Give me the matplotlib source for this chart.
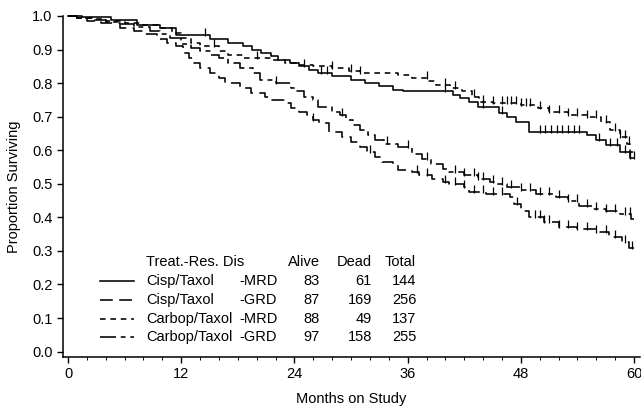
import numpy as np
import matplotlib
matplotlib.use('Agg')
import matplotlib.pyplot as plt
from matplotlib.ticker import MultipleLocator

plt.rcParams['font.family'] = ['Liberation Sans', 'DejaVu Sans']

# step times (months) and survival after each step
cm_t = [0, 1.5, 4.6, 7.3, 9.7, 11.5, 15.0, 17.0, 18.5, 19.5, 20.5, 21.5, 22.3, 23.5, 24.5, 25.5,
        26.5, 28.0, 30.0, 31.5, 33.0, 34.5, 35.5, 40.8, 41.5, 42.5, 43.5, 45.7, 46.5, 47.5, 48.9,
        55.0, 56.0, 57.0, 58.5, 59.6]
cm_s = [1.0, 0.996, 0.988, 0.973, 0.964, 0.943, 0.93, 0.92, 0.91, 0.90, 0.89, 0.88, 0.87, 0.86, 0.85, 0.84,
        0.83, 0.82, 0.81, 0.80, 0.79, 0.78, 0.775, 0.765, 0.755, 0.745, 0.73, 0.71, 0.70, 0.685, 0.655,
        0.645, 0.63, 0.615, 0.595, 0.578]
cm_cens = [14.5, 25, 26.8, 27.5, 40, 44, 46, 50, 50.6, 51.2, 51.8, 52.4, 53, 53.6, 54.2, 56.3, 57.5,
           58.2, 59, 59.6, 60]

cg_t = [0, 1.0, 2.0, 3.5, 5.5, 7.0, 8.0, 9.4, 10.5, 11.5, 12.2, 12.8, 13.4, 14.0, 15.0, 16.0, 16.6,
        18.2, 19.4, 20.9, 21.6, 23.0, 23.6, 24.5, 25.3, 26.0, 26.6, 27.7, 29.0, 30.0, 31.0, 31.7, 32.5,
        33.3, 34.4, 35.0, 36.5, 37.2, 38.6, 39.7, 40.4, 42.0, 42.5, 44.3, 46.8, 47.3, 48.0, 48.9, 50.5,
        52.0, 54.0, 56.0, 57.3, 58.7, 59.5]
cg_s = [1.0, 0.993, 0.986, 0.978, 0.965, 0.955, 0.945, 0.93, 0.92, 0.91, 0.89, 0.875, 0.86, 0.845, 0.83,
        0.815, 0.80, 0.785, 0.77, 0.76, 0.75, 0.74, 0.725, 0.715, 0.705, 0.69, 0.68, 0.655, 0.64, 0.625,
        0.61, 0.595, 0.58, 0.565, 0.555, 0.54, 0.535, 0.525, 0.515, 0.505, 0.50, 0.49, 0.476, 0.47, 0.46,
        0.44, 0.42, 0.40, 0.385, 0.37, 0.365, 0.355, 0.34, 0.327, 0.31]
cg_cens = [26, 32, 37, 38, 40, 41, 42, 43, 44, 45, 46, 47.6, 49.5, 50, 50.5, 51, 52, 53, 54, 55, 56,
           57, 58, 59, 59.8]

km_t = [0, 1.0, 2.5, 4.0, 6.0, 8.0, 9.5, 11.0, 12.0, 13.0, 14.0, 16.0, 17.0, 18.5, 21.5, 23.0, 24.5,
        26.0, 28.0, 29.8, 31.0, 35.0, 36.5, 38.3, 39.0, 40.5, 41.8, 42.8, 43.6, 45.0, 48.0, 49.8, 51.0,
        53.0, 55.0, 56.5, 57.5, 58.5, 59.2, 59.6]
km_s = [1.0, 0.995, 0.99, 0.984, 0.978, 0.972, 0.965, 0.95, 0.935, 0.92, 0.91, 0.895, 0.885, 0.875,
        0.87, 0.86, 0.855, 0.85, 0.845, 0.835, 0.83, 0.825, 0.815, 0.805, 0.795, 0.785, 0.775, 0.76,
        0.745, 0.74, 0.735, 0.725, 0.715, 0.705, 0.70, 0.685, 0.66, 0.64, 0.62, 0.595]
km_cens = [15.5, 20, 28, 30, 31, 38, 40, 41, 43, 44, 45, 46, 46.5, 47, 47.5, 48, 48.5, 49, 50, 51, 52,
           53, 54, 55, 56, 57, 58, 58.5, 59, 59.5]

kg_t = [0, 1.0, 2.5, 4.0, 5.5, 7.0, 8.7, 9.8, 10.8, 12.0, 13.0, 14.0, 15.0, 16.0, 17.0, 18.2, 19.6,
        20.3, 22.0, 23.6, 24.2, 25.0, 26.0, 26.5, 28.0, 28.8, 29.5, 30.2, 31.0, 31.8, 32.5, 33.5, 35.0,
        36.5, 37.5, 38.5, 39.7, 40.4, 42.0, 43.5, 44.7, 45.4, 46.5, 48.0, 49.6, 51.7, 53.0, 54.2, 55.5,
        57.0, 58.5, 59.7]
kg_s = [1.0, 0.994, 0.988, 0.982, 0.975, 0.968, 0.955, 0.945, 0.935, 0.915, 0.905, 0.895, 0.885, 0.875,
        0.86, 0.845, 0.83, 0.81, 0.80, 0.785, 0.775, 0.76, 0.75, 0.73, 0.715, 0.705, 0.69, 0.675, 0.66,
        0.645, 0.63, 0.62, 0.61, 0.59, 0.575, 0.56, 0.545, 0.535, 0.527, 0.515, 0.505, 0.50, 0.49, 0.48,
        0.47, 0.46, 0.45, 0.435, 0.425, 0.42, 0.41, 0.395]
kg_cens = [22, 29, 33.8, 36, 38, 41, 42, 43, 43.5, 44, 45, 46, 47, 48, 49, 50, 51, 52, 53, 54, 55,
           56, 57, 58, 59, 59.6]

groups = ['Cisp/Taxol', 'Cisp/Taxol', 'Carbop/Taxol', 'Carbop/Taxol']
dis = ['-MRD', '-GRD', '-MRD', '-GRD']
alive = [83, 87, 88, 97]
dead = [61, 169, 49, 158]
total = [144, 256, 137, 255]

series = [(cm_t, cm_s, cm_cens), (cg_t, cg_s, cg_cens), (km_t, km_s, km_cens), (kg_t, kg_s, kg_cens)]
dashes = [None, (8, 4), (3.5, 3), (10, 3, 3, 3)]

fig = plt.figure(figsize=(6.41, 4.09), dpi=100)
ax = fig.add_axes([0.098, 0.128, 0.9, 0.833])

for (t, s, cens), d in zip(series, dashes):
    t = np.array(t + [60.0])
    s = np.array(s + [s[-1]])
    line, = ax.step(t, s, where='post', color='black', lw=1.15, clip_on=False)
    if d is not None:
        line.set_dashes(d)
    c = np.array(cens)
    cy = s[np.searchsorted(t, c, side='right') - 1]
    ax.plot(c, cy + 0.009, ls='none', marker='|', ms=6, mew=0.9, color='black', clip_on=False)

ax.set_xlim(-0.55, 60.6)
ax.set_ylim(-0.015, 1.0)
ax.set_xticks(range(0, 61, 12))
ax.xaxis.set_minor_locator(MultipleLocator(2))
ax.set_yticks(np.arange(0, 1.01, 0.1))
ax.set_yticklabels(['%.1f' % v for v in np.arange(0, 1.01, 0.1)])
ax.spines['top'].set_visible(False)
ax.spines['right'].set_visible(False)
ax.spines['left'].set_bounds(-0.015, 1.0)
for sp in ['left', 'bottom']:
    ax.spines[sp].set_linewidth(1.1)
ax.tick_params(axis='both', which='major', labelsize=10.5, length=4, width=1, direction='out')
ax.tick_params(axis='x', which='minor', length=2, width=0.7)
ax.set_xlabel('Months on Study', fontsize=10.5, labelpad=8)
ax.set_ylabel('Proportion Surviving', fontsize=10.5, labelpad=8)

# legend table
fs = 10.5
hy = 0.268
rows_y = [0.211, 0.155, 0.098, 0.044]
ax.text(8.25, hy, 'Treat.-Res. Dis', fontsize=fs, va='center', ha='left')
ax.text(26.7, hy, 'Alive', fontsize=fs, va='center', ha='right')
ax.text(32.2, hy, 'Dead', fontsize=fs, va='center', ha='right')
ax.text(36.9, hy, 'Total', fontsize=fs, va='center', ha='right')
for i, y in enumerate(rows_y):
    ln, = ax.plot([3.4, 7.0], [y, y], color='black', lw=1.15)
    if dashes[i] is not None:
        ln.set_dashes(dashes[i])
    ax.text(8.25, y, groups[i], fontsize=fs, va='center', ha='left')
    ax.text(18.2, y, dis[i], fontsize=fs, va='center', ha='left')
    ax.text(26.7, y, str(alive[i]), fontsize=fs, va='center', ha='right')
    ax.text(32.2, y, str(dead[i]), fontsize=fs, va='center', ha='right')
    ax.text(36.9, y, str(total[i]), fontsize=fs, va='center', ha='right')

fig.savefig('out.png', dpi=100)
